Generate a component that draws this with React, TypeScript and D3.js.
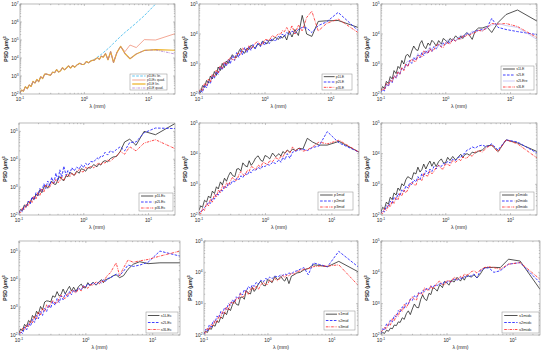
import React from "react";
import * as d3 from "d3";

// wavelength grid (mm)
const LAMBDA = [0.1,0.106,0.113,0.121,0.13,0.139,0.149,0.159,0.171,0.183,0.195,0.21,0.225,0.242,0.259,0.278,0.298,0.32,0.346,0.371,0.4,0.427,0.457,0.492,0.533,0.569,0.61,0.656,0.711,0.776,0.853,0.914,0.985,1.07,1.16,1.28,1.42,1.6,1.71,1.83,1.97,2.13,2.33,2.56,2.84,3.2,3.66,4.27,5.12,6.4,8.53,12.8,25.6];

// values are log10(PSD)
const P1_LOW = [2.07,2.22,2.16,2.40,2.30,2.50,2.42,2.70,2.61,2.81,2.68,2.96,2.86,3.11,3.10,3.07,3.04,3.21,3.19,3.35,3.22,3.29,3.46,3.34,3.47,3.56,3.44,3.58,3.49,3.63,3.71,3.64,3.64,3.80,3.74,3.85];
const p1LEcLin = [...P1_LOW, 3.92,4.05,4.12,4.2,4.3,4.4,4.52,4.65,4.82,5.0,5.2,5.42,5.65,5.95,6.35,7.0,8.1];
const p1LEcQuad = [...P1_LOW, 3.88,4.02,3.92,4.10,4.05,4.25,3.90,4.35,3.75,4.30,4.65,4.35,4.72,4.58,5.02,5.0,5.35];
const p1LELin = [...P1_LOW, 3.88,4.02,3.92,4.10,4.05,4.25,3.90,4.35,3.75,4.30,4.65,4.25,3.96,4.22,4.42,4.47,4.43];
const p1LEQuad = [...P1_LOW, 3.88,4.02,3.92,4.10,4.05,4.25,3.90,4.35,3.75,4.30,4.65,4.25,3.96,4.22,4.42,4.45,4.22];

const p1LE = [2.10,2.05,2.28,2.22,2.45,2.36,2.60,2.50,2.75,2.62,2.90,2.78,3.02,2.88,3.10,3.02,3.18,3.31,3.22,3.22,3.42,3.52,3.41,3.36,3.53,3.48,3.62,3.59,3.52,3.67,3.61,3.76,3.72,3.67,3.80,3.77,3.89,3.82,3.93,3.86,3.96,3.80,4.10,3.90,4.15,3.95,4.62,4.00,3.92,4.42,4.44,4.45,4.22];
const p2LE = [2.00,2.12,2.05,2.30,2.20,2.42,2.35,2.62,2.52,2.75,2.65,2.92,2.80,3.05,2.92,3.15,3.00,3.28,3.12,3.38,3.22,3.45,3.30,3.55,3.38,3.58,3.45,3.65,3.50,3.70,3.58,3.75,3.62,3.80,3.68,3.85,3.75,3.92,3.85,4.00,3.92,4.05,3.98,4.10,4.02,4.15,4.22,4.20,4.05,4.28,4.40,4.72,4.12];
const p3LE = [2.08,2.18,2.12,2.35,2.28,2.50,2.40,2.66,2.58,2.80,2.70,2.95,2.85,3.08,2.99,3.13,3.22,3.15,3.13,3.33,3.35,3.31,3.53,3.47,3.45,3.61,3.50,3.57,3.69,3.75,3.64,3.64,3.81,3.81,3.78,3.95,3.89,4.01,3.98,4.11,4.08,4.22,4.05,4.28,4.00,4.30,4.10,4.55,4.76,4.10,4.35,4.50,4.05];

const s1LE = [2.12,2.25,2.18,2.42,2.35,2.58,2.50,2.78,2.68,2.92,2.85,3.12,3.00,3.28,3.32,3.22,3.43,3.60,3.48,3.45,3.68,3.78,3.60,3.51,3.70,3.62,3.79,3.72,3.60,3.78,3.66,3.85,3.80,3.71,3.85,3.79,3.94,3.82,3.93,3.85,3.99,4.05,3.95,3.82,4.10,4.20,4.20,4.25,4.05,4.38,4.65,4.80,4.43];
const s2LE = [2.05,2.15,2.10,2.32,2.25,2.45,2.38,2.60,2.52,2.72,2.65,2.88,2.80,3.00,2.92,3.12,3.02,3.22,3.12,3.30,3.20,3.38,3.28,3.45,3.35,3.52,3.42,3.58,3.50,3.65,3.58,3.70,3.65,3.75,3.70,3.80,3.78,3.88,3.85,3.95,3.92,4.02,3.98,4.05,4.10,4.12,4.15,4.18,4.52,4.22,4.15,4.08,3.98];
const s2LEre = [2.08,2.12,2.20,2.28,2.30,2.48,2.42,2.62,2.55,2.75,2.70,2.85,2.82,3.02,3.10,3.07,3.04,3.21,3.19,3.35,3.23,3.29,3.44,3.33,3.48,3.57,3.47,3.59,3.49,3.63,3.72,3.64,3.65,3.81,3.75,3.85,3.78,3.90,3.97,3.90,3.99,4.05,4.00,4.10,4.05,4.12,4.10,4.20,4.30,4.35,4.28,4.22,3.82];
const s3LE = [2.10,2.18,2.14,2.35,2.28,2.48,2.40,2.62,2.55,2.75,2.66,2.88,2.78,3.00,2.92,3.07,3.17,3.10,3.08,3.27,3.28,3.23,3.45,3.38,3.36,3.52,3.41,3.48,3.61,3.67,3.56,3.55,3.71,3.70,3.66,3.83,3.76,3.86,3.82,3.94,3.90,3.98,3.95,4.02,4.05,4.12,4.10,4.20,4.35,4.33,4.35,4.25,3.88];

const p1LEc = [2.10,2.20,2.16,2.36,2.30,2.48,2.42,2.62,2.55,2.75,2.68,2.90,2.80,3.00,3.05,2.96,3.10,3.21,3.11,3.10,3.28,3.38,3.28,3.23,3.41,3.37,3.52,3.49,3.42,3.57,3.50,3.66,3.63,3.57,3.70,3.68,3.81,3.73,3.84,3.79,3.91,3.95,3.90,4.02,4.08,4.10,4.28,4.62,4.72,4.50,5.00,4.88,5.28];
const p2LEc = [2.05,2.18,2.12,2.32,2.28,2.50,2.40,2.65,2.55,2.80,2.70,2.95,2.85,3.12,2.95,3.22,3.05,3.35,3.15,3.50,3.25,3.62,3.35,3.75,3.42,3.60,3.50,3.70,3.58,3.72,3.65,3.80,3.70,3.85,3.78,3.92,3.90,4.05,4.00,4.12,4.10,4.25,4.15,4.30,4.25,4.35,4.45,4.30,4.60,4.62,4.95,5.12,5.10];
const p3LEc = [2.12,2.08,2.25,2.20,2.40,2.32,2.54,2.45,2.68,2.58,2.80,2.70,2.93,2.82,3.07,3.03,3.00,3.16,3.13,3.28,3.16,3.22,3.37,3.25,3.39,3.48,3.38,3.50,3.40,3.54,3.63,3.55,3.55,3.71,3.65,3.76,3.69,3.81,3.88,3.81,3.90,3.86,3.98,3.92,4.02,4.12,4.28,4.18,4.45,4.30,4.58,4.70,4.38];

const p1mid = [2.15,2.30,2.25,2.48,2.42,2.62,2.55,2.78,2.70,2.92,2.85,3.08,2.98,3.20,3.10,3.28,3.40,3.29,3.25,3.50,3.51,3.43,3.70,3.61,3.57,3.77,3.62,3.71,3.86,3.93,3.78,3.75,3.94,3.90,3.83,4.02,3.90,4.00,3.92,4.07,4.01,4.12,4.05,4.15,4.10,4.18,4.15,4.50,4.38,4.28,4.28,4.40,4.05];
const p2mid = [2.05,2.12,2.15,2.25,2.30,2.42,2.38,2.55,2.52,2.70,2.65,2.82,2.78,2.95,2.88,3.05,2.98,3.12,3.08,3.20,3.15,3.28,3.22,3.35,3.30,3.42,3.38,3.48,3.45,3.55,3.50,3.60,3.58,3.65,3.62,3.72,3.68,3.80,3.72,3.88,3.80,4.00,3.85,4.05,4.08,4.12,4.15,4.10,4.20,4.25,4.72,4.35,4.05];
const p3mid = [2.10,2.02,2.22,2.15,2.38,2.30,2.52,2.42,2.68,2.58,2.82,2.72,2.96,2.85,3.05,2.96,3.11,3.23,3.14,3.13,3.32,3.42,3.32,3.28,3.46,3.43,3.58,3.55,3.48,3.63,3.56,3.72,3.69,3.64,3.77,3.74,3.87,3.81,3.92,3.89,4.03,4.10,4.02,4.22,4.10,4.18,4.08,4.12,4.22,4.38,4.32,4.44,4.05];

const p1midc = [2.10,2.25,2.20,2.42,2.35,2.58,2.50,2.72,2.65,2.88,2.80,3.02,2.95,3.15,3.25,3.21,3.16,3.38,3.34,3.56,3.40,3.48,3.66,3.50,3.66,3.76,3.59,3.73,3.58,3.74,3.83,3.71,3.69,3.88,3.78,3.91,3.79,3.92,3.98,3.87,3.97,4.00,3.95,4.05,4.02,4.08,4.12,4.25,4.28,4.07,4.45,4.35,4.07];
const p2midc = [2.05,2.15,2.10,2.30,2.25,2.45,2.38,2.58,2.50,2.70,2.62,2.82,2.75,2.95,2.88,3.05,2.98,3.15,3.08,3.25,3.15,3.35,3.25,3.45,3.35,3.50,3.42,3.58,3.50,3.62,3.58,3.68,3.65,3.75,3.70,3.82,3.78,3.90,3.88,3.98,4.00,4.12,4.15,4.22,4.18,4.25,4.28,4.22,4.32,4.12,4.45,4.38,4.02];
const p3midc = [2.08,2.05,2.20,2.15,2.34,2.26,2.46,2.38,2.58,2.50,2.70,2.62,2.82,2.72,2.82,2.96,3.06,2.99,2.97,3.16,3.17,3.12,3.35,3.29,3.27,3.44,3.34,3.42,3.55,3.62,3.51,3.50,3.66,3.65,3.61,3.78,3.72,3.82,3.77,3.89,3.85,3.86,3.95,3.92,4.05,4.10,4.05,4.20,4.28,4.05,4.45,4.32,3.86];

const s1LEc = [2.08,2.22,2.15,2.38,2.30,2.52,2.45,2.70,2.60,2.85,2.75,3.02,2.90,3.18,3.22,3.21,3.18,3.40,3.35,3.55,3.39,3.46,3.64,3.47,3.63,3.74,3.57,3.71,3.56,3.73,3.82,3.70,3.68,3.87,3.77,3.89,3.78,3.91,3.98,3.87,3.98,4.00,4.05,4.12,4.15,4.05,4.12,4.35,4.53,4.62,4.55,4.58,4.58];
const s2LEc = [2.00,2.12,2.05,2.28,2.18,2.42,2.32,2.56,2.45,2.70,2.58,2.84,2.70,2.96,2.84,3.08,2.96,3.20,3.06,3.30,3.16,3.40,3.26,3.48,3.36,3.55,3.44,3.62,3.52,3.68,3.60,3.76,3.70,3.84,3.76,3.88,3.80,3.92,3.86,3.98,3.92,4.02,4.05,4.10,4.18,4.12,4.28,4.50,4.45,4.50,4.60,5.00,4.82];
const s3LEc = [2.10,2.08,2.24,2.18,2.38,2.30,2.52,2.44,2.68,2.58,2.82,2.72,2.95,2.85,3.08,2.98,3.12,3.24,3.14,3.14,3.33,3.43,3.33,3.30,3.48,3.45,3.60,3.57,3.50,3.65,3.58,3.74,3.72,3.67,3.80,3.78,3.90,3.83,3.94,3.90,4.03,4.15,4.22,4.40,4.58,4.12,4.40,4.68,4.60,4.65,4.70,4.82,5.00];

const s1mid = [2.05,2.12,2.08,2.22,2.18,2.32,2.28,2.45,2.40,2.58,2.52,2.72,2.65,2.85,2.78,2.96,3.09,2.98,2.95,3.20,3.21,3.14,3.42,3.34,3.31,3.52,3.39,3.48,3.64,3.72,3.58,3.57,3.77,3.73,3.67,3.87,3.76,3.87,3.77,3.72,3.85,3.64,3.88,3.92,3.98,4.00,4.08,4.12,4.24,4.22,4.18,4.35,4.02];
const s2mid = [2.02,2.18,2.12,2.32,2.25,2.45,2.40,2.60,2.55,2.75,2.68,2.88,2.82,3.00,2.95,3.12,3.05,3.22,3.15,3.35,3.28,3.45,3.38,3.55,3.48,3.60,3.55,3.68,3.62,3.75,3.70,3.80,3.78,3.85,3.80,3.88,3.85,3.92,3.90,3.95,3.92,3.98,3.95,4.02,4.05,4.10,4.15,3.92,4.30,4.25,4.18,4.67,4.18];
const s3mid = [2.10,2.06,2.22,2.16,2.34,2.28,2.48,2.40,2.62,2.54,2.76,2.68,2.90,2.80,3.05,3.03,3.00,3.17,3.15,3.32,3.20,3.26,3.41,3.30,3.44,3.54,3.44,3.56,3.46,3.60,3.69,3.61,3.61,3.77,3.70,3.80,3.73,3.84,3.90,3.83,3.92,3.88,3.98,3.94,4.02,4.05,4.10,4.12,4.18,4.20,4.20,4.24,3.59];

const s1midc = [2.02,2.08,2.05,2.15,2.12,2.22,2.20,2.32,2.30,2.42,2.40,2.55,2.50,2.68,2.77,2.65,2.83,2.99,2.88,2.87,3.14,3.28,3.15,3.10,3.33,3.29,3.51,3.48,3.40,3.61,3.51,3.71,3.67,3.59,3.75,3.69,3.84,3.72,3.84,3.75,3.89,3.88,3.85,3.92,3.82,3.95,4.15,4.15,4.16,4.15,4.42,4.36,3.46];
const s2midc = [2.05,2.20,2.15,2.35,2.30,2.48,2.42,2.62,2.58,2.78,2.72,2.90,2.85,3.02,2.98,3.15,3.10,3.25,3.20,3.35,3.30,3.42,3.38,3.50,3.45,3.55,3.52,3.60,3.58,3.65,3.62,3.70,3.68,3.72,3.70,3.78,3.75,3.82,3.80,3.86,3.84,3.90,3.88,3.95,3.83,4.05,4.12,4.15,4.00,4.05,4.26,4.31,3.67];
const s3midc = [2.10,2.15,2.24,2.20,2.38,2.32,2.52,2.45,2.66,2.60,2.82,2.75,2.98,2.88,2.99,3.13,3.22,3.14,3.12,3.33,3.34,3.29,3.51,3.45,3.42,3.58,3.47,3.55,3.67,3.72,3.61,3.59,3.74,3.73,3.69,3.85,3.77,3.87,3.82,3.95,3.91,3.94,4.02,4.05,3.98,4.08,4.15,4.18,4.15,4.10,4.26,4.31,3.78];

const BLACK = { color: "#1a1a1a", width: 0.75, dash: "" };
const BLUE = { color: "#2b2bff", width: 0.9, dash: "2.6,1.4" };
const RED = { color: "#ff2020", width: 0.8, dash: "2.6,1,0.7,1" };
const LAV = { color: "#a9a9f2", width: 0.6, dash: "" };

type Ser = { name: string; vals: number[]; color: string; width: number; dash: string };
type Panel = { x0: number; x1: number; y0: number; y1: number; yTop: number; yTicks: number[]; legend: number[]; fs: number; series: Ser[] };

const mk = (name: string, vals: number[], st: { color: string; width: number; dash: string }): Ser => ({ name, vals, ...st });

const PANELS: Panel[] = [
  { x0: 20, x1: 175, y0: 4, y1: 94, yTop: 7, yTicks: [2, 3, 4, 5, 6, 7], legend: [130, 74, 167, 90], fs: 3.2,
    series: [
      mk("p1LEc lin.", p1LEcLin, { color: "#4DBEEE", width: 0.9, dash: "2.6,1.4" }),
      mk("p1LEc quad.", p1LEcQuad, { color: "#F0907A", width: 0.8, dash: "" }),
      mk("p1LE lin.", p1LELin, { color: "#EDB120", width: 1.2, dash: "" }),
      mk("p1LE quad.", p1LEQuad, { color: "#A56FCC", width: 0.7, dash: "2.6,1,0.7,1" }),
    ] },
  { x0: 199, x1: 358, y0: 4, y1: 94, yTop: 5, yTicks: [2, 3, 4, 5], legend: [322, 74, 352, 90], fs: 3.6,
    series: [mk("p1LE", p1LE, BLACK), mk("p2LE", p2LE, BLUE), mk("p3LE", p3LE, RED)] },
  { x0: 381, x1: 537, y0: 4, y1: 94, yTop: 5, yTicks: [2, 3, 4, 5], legend: [501, 66, 534, 90], fs: 3.6,
    series: [mk("s1LE", s1LE, BLACK), mk("s2LE", s2LE, BLUE), mk("s2LEre", s2LEre, LAV), mk("s3LE", s3LE, RED)] },
  { x0: 19, x1: 175, y0: 123, y1: 215, yTop: 5.3, yTicks: [2, 3, 4, 5], legend: [139, 193, 173, 211], fs: 3.8,
    series: [mk("p1LEc", p1LEc, BLACK), mk("p2LEc", p2LEc, BLUE), mk("p3LEc", p3LEc, RED)] },
  { x0: 199, x1: 359, y0: 123, y1: 215, yTop: 5, yTicks: [2, 3, 4, 5], legend: [318, 192, 353, 210], fs: 3.8,
    series: [mk("p1mid", p1mid, BLACK), mk("p2mid", p2mid, BLUE), mk("p3mid", p3mid, RED)] },
  { x0: 381, x1: 537, y0: 123, y1: 215, yTop: 5, yTicks: [2, 3, 4, 5], legend: [500, 192, 534, 210], fs: 3.8,
    series: [mk("p1midc", p1midc, BLACK), mk("p2midc", p2midc, BLUE), mk("p3midc", p3midc, RED)] },
  { x0: 19, x1: 180, y0: 241, y1: 335, yTop: 5.36, yTicks: [2, 3, 4, 5], legend: [146, 312, 178, 333], fs: 4,
    series: [mk("s1LEc", s1LEc, BLACK), mk("s2LEc", s2LEc, BLUE), mk("s3LEc", s3LEc, RED)] },
  { x0: 204, x1: 358, y0: 241, y1: 335, yTop: 5, yTicks: [2, 3, 4, 5], legend: [324, 311, 355, 330], fs: 3.8,
    series: [mk("s1mid", s1mid, BLACK), mk("s2mid", s2mid, BLUE), mk("s3mid", s3mid, RED)] },
  { x0: 381, x1: 540, y0: 241, y1: 335, yTop: 5, yTicks: [2, 3, 4, 5], legend: [502, 312, 539, 333], fs: 4,
    series: [mk("s1midc", s1midc, BLACK), mk("s2midc", s2midc, BLUE), mk("s3midc", s3midc, RED)] },
];

const X_DOMAIN = [0.1, 25.6];
const X_MAJOR = [-1, 0, 1];
const FONT = "Liberation Sans, Arial, sans-serif";
const AXIS_COLOR = "#8c8c8c";

function Pow10({ x, y, e, anchor, fs }: { x: number; y: number; e: number; anchor: string; fs: number }) {
  return (
    <text x={x} y={y} textAnchor={anchor} fontSize={fs} fontFamily={FONT} fill="#262626">
      10<tspan fontSize={fs * 0.7} dy={-fs * 0.4}>{e}</tspan>
    </text>
  );
}

function PanelView({ p, idx }: { p: Panel; idx: number }) {
  const xs = d3.scaleLog().domain(X_DOMAIN).range([p.x0, p.x1]);
  const ys = d3.scaleLog().domain([100, Math.pow(10, p.yTop)]).range([p.y1, p.y0]);
  const line = d3.line<number>().x((_, i) => xs(LAMBDA[i])).y((v) => ys(Math.pow(10, v)));
  const clipId = `clip${idx}`;
  const tl = 2;
  const tm = 1.2;
  const xMinor: number[] = [];
  for (let e = -1; e <= 1; e++) for (let m = 2; m <= 9; m++) { const v = m * Math.pow(10, e); if (v <= X_DOMAIN[1]) xMinor.push(v); }
  const yMinor: number[] = [];
  for (let e = 2; e < Math.ceil(p.yTop); e++) for (let m = 2; m <= 9; m++) { const v = m * Math.pow(10, e); if (Math.log10(v) <= p.yTop) yMinor.push(v); }
  const [lx0, ly0, lx1, ly1] = p.legend;
  const rowH = (ly1 - ly0) / p.series.length;
  const lw = lx1 - lx0;
  const midY = (p.y0 + p.y1) / 2;
  return (
    <g>
      <defs>
        <clipPath id={clipId}><rect x={p.x0} y={p.y0} width={p.x1 - p.x0} height={p.y1 - p.y0} /></clipPath>
      </defs>
      <rect x={p.x0} y={p.y0} width={p.x1 - p.x0} height={p.y1 - p.y0} fill="#fff" />
      <g clipPath={`url(#${clipId})`}>
        {p.series.map((s) => (
          <path key={s.name} d={line(s.vals) || ""} fill="none" stroke={s.color} strokeWidth={s.width} strokeDasharray={s.dash || undefined} strokeLinejoin="round" />
        ))}
      </g>
      <g stroke={AXIS_COLOR} strokeWidth={0.5}>
        {X_MAJOR.map((e) => { const x = xs(Math.pow(10, e)); return (
          <g key={"xm" + e}><line x1={x} x2={x} y1={p.y1} y2={p.y1 - tl} /><line x1={x} x2={x} y1={p.y0} y2={p.y0 + tl} /></g>); })}
        {xMinor.map((v) => { const x = xs(v); return (
          <g key={"xn" + v}><line x1={x} x2={x} y1={p.y1} y2={p.y1 - tm} /><line x1={x} x2={x} y1={p.y0} y2={p.y0 + tm} /></g>); })}
        {p.yTicks.map((e) => { const y = ys(Math.pow(10, e)); return (
          <g key={"ym" + e}><line x1={p.x0} x2={p.x0 + tl} y1={y} y2={y} /><line x1={p.x1} x2={p.x1 - tl} y1={y} y2={y} /></g>); })}
        {yMinor.map((v) => { const y = ys(v); return (
          <g key={"yn" + v}><line x1={p.x0} x2={p.x0 + tm} y1={y} y2={y} /><line x1={p.x1} x2={p.x1 - tm} y1={y} y2={y} /></g>); })}
      </g>
      <rect x={p.x0} y={p.y0} width={p.x1 - p.x0} height={p.y1 - p.y0} fill="none" stroke={AXIS_COLOR} strokeWidth={0.6} />
      {X_MAJOR.map((e) => (
        <Pow10 key={"xl" + e} x={xs(Math.pow(10, e))} y={p.y1 + 6.5} e={e} anchor="middle" fs={4.8} />
      ))}
      {p.yTicks.map((e) => (
        <Pow10 key={"yl" + e} x={p.x0 - 1.5} y={ys(Math.pow(10, e)) + 1.8} e={e} anchor="end" fs={4.8} />
      ))}
      <text x={(p.x0 + p.x1) / 2} y={p.y1 + 14} textAnchor="middle" fontSize={5.2} fontFamily={FONT} fill="#262626">λ (mm)</text>
      <text transform={`translate(${p.x0 - 12},${midY}) rotate(-90)`} textAnchor="middle" fontSize={5.2} fontFamily={FONT} fontWeight="bold" fill="#262626">
        PSD (μm)<tspan fontSize={3.8} dy={-2}>3</tspan>
      </text>
      <rect x={lx0} y={ly0} width={lw} height={ly1 - ly0} fill="#fff" stroke={AXIS_COLOR} strokeWidth={0.5} />
      {p.series.map((s, i) => {
        const cy = ly0 + rowH * (i + 0.5);
        return (
          <g key={"lg" + s.name}>
            <line x1={lx0 + lw * 0.06} x2={lx0 + lw * 0.42} y1={cy} y2={cy} stroke={s.color} strokeWidth={s.width} strokeDasharray={s.dash || undefined} />
            <text x={lx0 + lw * 0.46} y={cy + p.fs * 0.35} fontSize={p.fs} fontFamily={FONT} fill="#262626">{s.name}</text>
          </g>
        );
      })}
    </g>
  );
}

export default function App() {
  return (
    <svg width={552} height={356} viewBox="0 0 552 356" style={{ position: "absolute", left: 0, top: 0, background: "#fff" }}>
      <rect width={552} height={356} fill="#fff" />
      {PANELS.map((p, i) => <PanelView key={i} p={p} idx={i} />)}
    </svg>
  );
}
